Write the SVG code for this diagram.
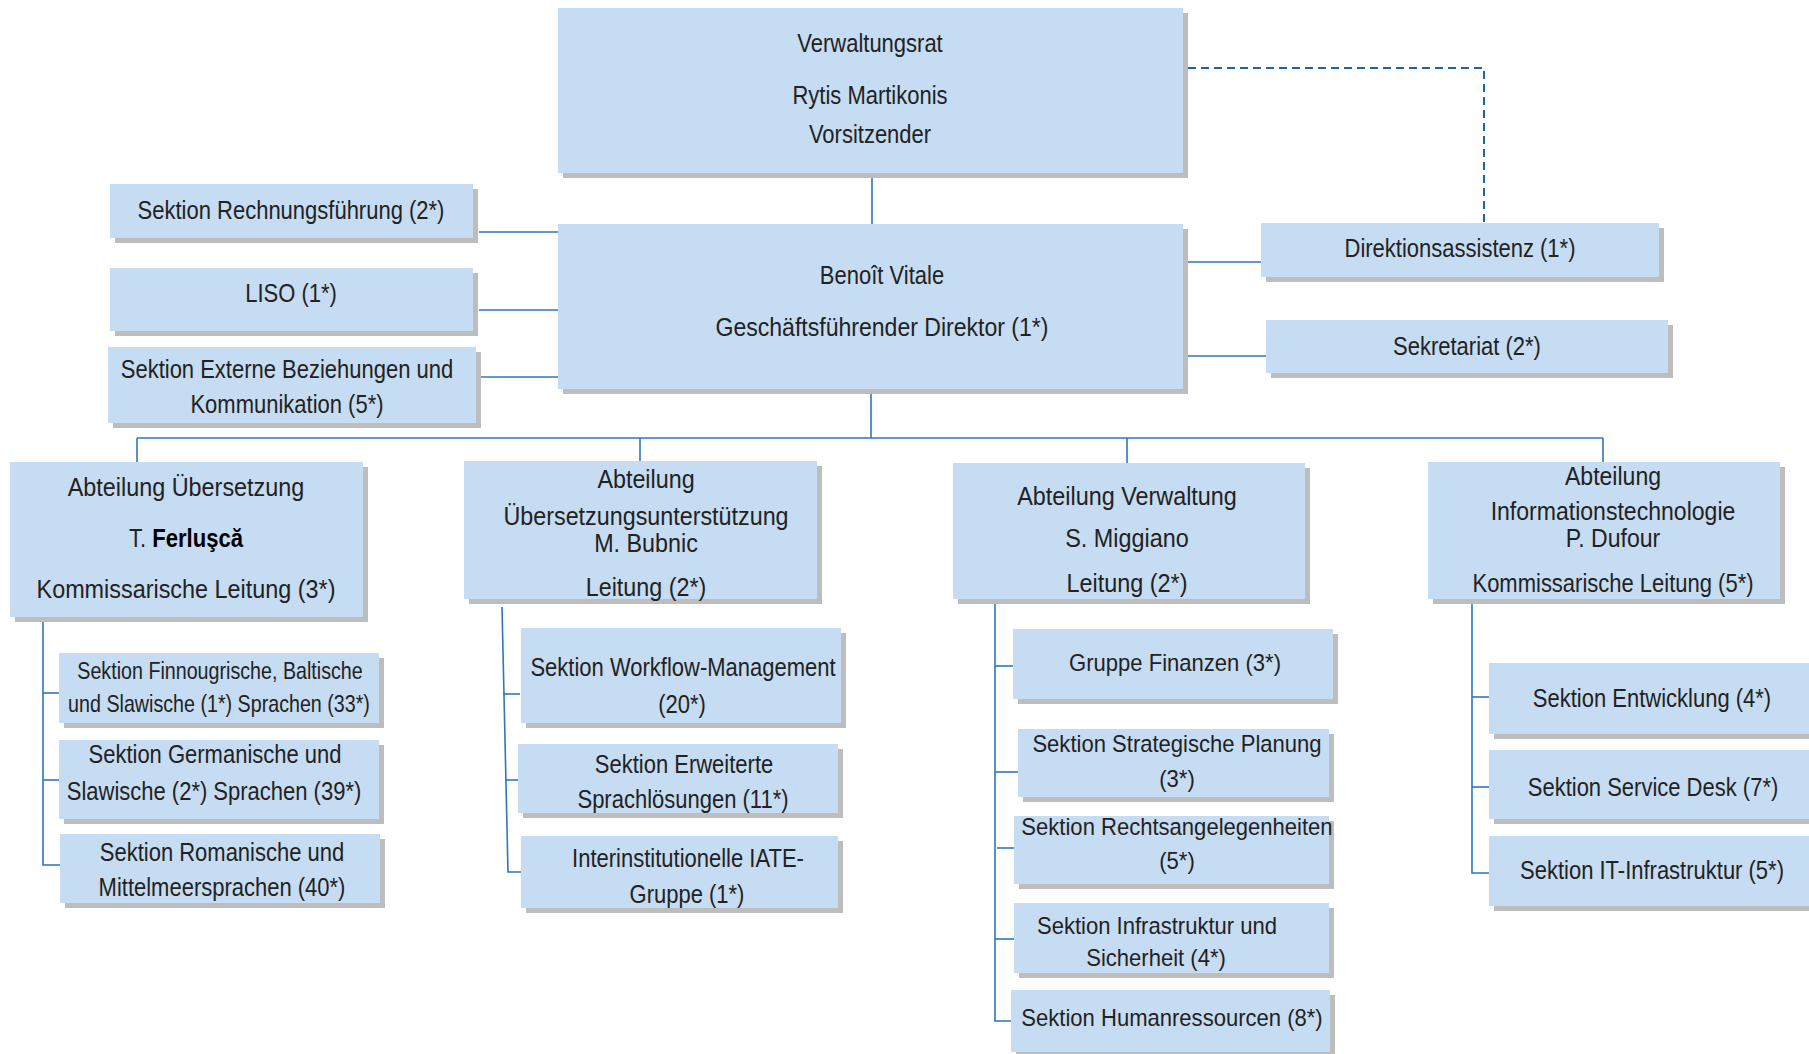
<svg xmlns="http://www.w3.org/2000/svg" width="1809" height="1054" viewBox="0 0 1809 1054">
<style>
.bg{fill:#ffffff}
.sh{fill:#bdbdbd}
.bx{fill:#c6dcf2}
.ln{stroke:#2f77b8;stroke-width:1.6;fill:none}
.dash{stroke:#1f64a6;stroke-width:2;fill:none;stroke-dasharray:8 5}
text{fill:#222222;text-anchor:middle;font-family:"Liberation Sans",Arial,sans-serif}
.c{font-size:26.5px}
.cs{font-size:24px}
.r{font-size:26px}
.rs{font-size:24.5px}
.b{font-weight:bold;fill:#000}
</style>
<rect class="bg" x="0" y="0" width="1809" height="1054"/>

<g id="connectors">
  <line class="ln" x1="872" y1="173" x2="872" y2="224"/>
  <line class="ln" x1="479" y1="232" x2="558" y2="232"/>
  <line class="ln" x1="479" y1="310" x2="558" y2="310"/>
  <line class="ln" x1="480" y1="377" x2="558" y2="377"/>
  <line class="ln" x1="1183" y1="262" x2="1261" y2="262"/>
  <line class="ln" x1="1188" y1="356" x2="1266" y2="356"/>
  <path class="dash" d="M1188,68 H1484 V222"/>
  <line class="ln" x1="871" y1="389" x2="871" y2="438"/>
  <line class="ln" x1="137" y1="438" x2="1603" y2="438"/>
  <line class="ln" x1="137" y1="438" x2="137" y2="462"/>
  <line class="ln" x1="640" y1="438" x2="640" y2="461"/>
  <line class="ln" x1="1127" y1="438" x2="1127" y2="463"/>
  <line class="ln" x1="1603" y1="438" x2="1603" y2="462"/>
  <polyline class="ln" points="43,617 43,865 60,865"/>
  <line class="ln" x1="43" y1="693" x2="59" y2="693"/>
  <line class="ln" x1="43" y1="780" x2="59" y2="780"/>
  <polyline class="ln" points="502,607 508,872 525,872"/>
  <line class="ln" x1="503" y1="694" x2="520" y2="694"/>
  <line class="ln" x1="505" y1="780" x2="518" y2="780"/>
  <polyline class="ln" points="995,599 995,1021 1011,1021"/>
  <line class="ln" x1="995" y1="666" x2="1013" y2="666"/>
  <line class="ln" x1="995" y1="772" x2="1018" y2="772"/>
  <line class="ln" x1="997" y1="848" x2="1014" y2="848"/>
  <line class="ln" x1="995" y1="939" x2="1014" y2="939"/>
  <polyline class="ln" points="1472,602 1472,873 1489,873"/>
  <line class="ln" x1="1472" y1="697" x2="1489" y2="697"/>
  <line class="ln" x1="1472" y1="787" x2="1489" y2="787"/>
</g>

<g id="verwaltungsrat">
  <rect class="sh" x="563" y="13" width="625" height="165"/>
  <rect class="bx" x="558" y="8" width="625" height="165"/>
  <text class="c" transform="translate(870 52) scale(0.83 1)">Verwaltungsrat</text>
  <text class="c" transform="translate(870 104) scale(0.83 1)">Rytis Martikonis</text>
  <text class="c" transform="translate(870 143) scale(0.83 1)">Vorsitzender</text>
</g>

<g id="direktor">
  <rect class="sh" x="563" y="229" width="625" height="165"/>
  <rect class="bx" x="558" y="224" width="625" height="165"/>
  <text class="c" transform="translate(882 284) scale(0.83 1)">Benoît Vitale</text>
  <text class="c" transform="translate(882 336) scale(0.87 1)">Geschäftsführender Direktor (1*)</text>
</g>

<g id="rechnungsfuehrung">
  <rect class="sh" x="115" y="189" width="363" height="54"/>
  <rect class="bx" x="110" y="184" width="363" height="54"/>
  <text class="c" transform="translate(291 219) scale(0.83 1)">Sektion Rechnungsführung (2*)</text>
</g>

<g id="liso">
  <rect class="sh" x="115" y="273" width="363" height="63"/>
  <rect class="bx" x="110" y="268" width="363" height="63"/>
  <text class="c" transform="translate(291 302) scale(0.83 1)">LISO (1*)</text>
</g>

<g id="externe">
  <rect class="sh" x="113" y="352" width="368" height="76"/>
  <rect class="bx" x="108" y="347" width="368" height="76"/>
  <text class="c" transform="translate(287 378) scale(0.83 1)">Sektion Externe Beziehungen und</text>
  <text class="c" transform="translate(287 413) scale(0.83 1)">Kommunikation (5*)</text>
</g>

<g id="direktionsassistenz">
  <rect class="sh" x="1266" y="228" width="398" height="54"/>
  <rect class="bx" x="1261" y="223" width="398" height="54"/>
  <text class="c" transform="translate(1460 257) scale(0.83 1)">Direktionsassistenz (1*)</text>
</g>

<g id="sekretariat">
  <rect class="sh" x="1271" y="325" width="402" height="53"/>
  <rect class="bx" x="1266" y="320" width="402" height="53"/>
  <text class="c" transform="translate(1467 355) scale(0.83 1)">Sekretariat (2*)</text>
</g>

<g id="abt-uebersetzung">
  <rect class="sh" x="15" y="467" width="353" height="155"/>
  <rect class="bx" x="10" y="462" width="353" height="155"/>
  <text class="r" transform="translate(186 496) scale(0.9 1)">Abteilung Übersetzung</text>
  <text class="r" transform="translate(186 547) scale(0.85 1)">T. <tspan class="b">Ferluşcă</tspan></text>
  <text class="r" transform="translate(186 598) scale(0.9 1)">Kommissarische Leitung (3*)</text>
</g>

<g id="finnougrisch">
  <rect class="sh" x="64" y="658" width="320" height="70"/>
  <rect class="bx" x="59" y="653" width="320" height="70"/>
  <text class="cs" transform="translate(220 679) scale(0.82 1)">Sektion Finnougrische, Baltische</text>
  <text class="cs" transform="translate(219 712) scale(0.82 1)">und Slawische (1*) Sprachen (33*)</text>
</g>

<g id="germanisch">
  <rect class="sh" x="64" y="745" width="320" height="79"/>
  <rect class="bx" x="59" y="740" width="320" height="79"/>
  <text class="c" transform="translate(215 763) scale(0.83 1)">Sektion Germanische und</text>
  <text class="c" transform="translate(214 800) scale(0.83 1)">Slawische (2*) Sprachen (39*)</text>
</g>

<g id="romanisch">
  <rect class="sh" x="65" y="839" width="320" height="69"/>
  <rect class="bx" x="60" y="834" width="320" height="69"/>
  <text class="c" transform="translate(222 861) scale(0.83 1)">Sektion Romanische und</text>
  <text class="c" transform="translate(222 896) scale(0.83 1)">Mittelmeersprachen (40*)</text>
</g>

<g id="abt-unterstuetzung">
  <rect class="sh" x="469" y="466" width="353" height="138"/>
  <rect class="bx" x="464" y="461" width="353" height="138"/>
  <text class="c" transform="translate(646 488) scale(0.88 1)">Abteilung</text>
  <text class="c" transform="translate(646 525) scale(0.88 1)">Übersetzungsunterstützung</text>
  <text class="c" transform="translate(646 552) scale(0.88 1)">M. Bubnic</text>
  <text class="c" transform="translate(646 596) scale(0.88 1)">Leitung (2*)</text>
</g>

<g id="workflow">
  <rect class="sh" x="526" y="633" width="320" height="95"/>
  <rect class="bx" x="521" y="628" width="320" height="95"/>
  <text class="c" transform="translate(683 676) scale(0.83 1)">Sektion Workflow-Management</text>
  <text class="c" transform="translate(682 713) scale(0.83 1)">(20*)</text>
</g>

<g id="sprachloesungen">
  <rect class="sh" x="523" y="749" width="320" height="69"/>
  <rect class="bx" x="518" y="744" width="320" height="69"/>
  <text class="c" transform="translate(684 773) scale(0.83 1)">Sektion Erweiterte</text>
  <text class="c" transform="translate(683 808) scale(0.83 1)">Sprachlösungen (11*)</text>
</g>

<g id="iate">
  <rect class="sh" x="526" y="841" width="317" height="72"/>
  <rect class="bx" x="521" y="836" width="317" height="72"/>
  <text class="c" transform="translate(688 867) scale(0.83 1)">Interinstitutionelle IATE-</text>
  <text class="c" transform="translate(687 903) scale(0.83 1)">Gruppe (1*)</text>
</g>

<g id="abt-verwaltung">
  <rect class="sh" x="958" y="468" width="352" height="136"/>
  <rect class="bx" x="953" y="463" width="352" height="136"/>
  <text class="r" transform="translate(1127 505) scale(0.9 1)">Abteilung Verwaltung</text>
  <text class="r" transform="translate(1127 547) scale(0.9 1)">S. Miggiano</text>
  <text class="r" transform="translate(1127 592) scale(0.9 1)">Leitung (2*)</text>
</g>

<g id="finanzen">
  <rect class="sh" x="1018" y="634" width="320" height="70"/>
  <rect class="bx" x="1013" y="629" width="320" height="70"/>
  <text class="rs" transform="translate(1175 671) scale(0.9 1)">Gruppe Finanzen (3*)</text>
</g>

<g id="strategie">
  <rect class="sh" x="1023" y="734" width="311" height="68"/>
  <rect class="bx" x="1018" y="729" width="311" height="68"/>
  <text class="rs" transform="translate(1177 752) scale(0.9 1)">Sektion Strategische Planung</text>
  <text class="rs" transform="translate(1177 787) scale(0.9 1)">(3*)</text>
</g>

<g id="recht">
  <rect class="sh" x="1019" y="821" width="315" height="68"/>
  <rect class="bx" x="1014" y="816" width="315" height="68"/>
  <text class="rs" transform="translate(1177 835) scale(0.9 1)">Sektion Rechtsangelegenheiten</text>
  <text class="rs" transform="translate(1177 869) scale(0.9 1)">(5*)</text>
</g>

<g id="infrastruktur">
  <rect class="sh" x="1019" y="908" width="315" height="70"/>
  <rect class="bx" x="1014" y="903" width="315" height="70"/>
  <text class="rs" transform="translate(1157 934) scale(0.9 1)">Sektion Infrastruktur und</text>
  <text class="rs" transform="translate(1156 966) scale(0.9 1)">Sicherheit (4*)</text>
</g>

<g id="humanressourcen">
  <rect class="sh" x="1016" y="995" width="319" height="62"/>
  <rect class="bx" x="1011" y="990" width="319" height="62"/>
  <text class="rs" transform="translate(1172 1026) scale(0.9 1)">Sektion Humanressourcen (8*)</text>
</g>

<g id="abt-it">
  <rect class="sh" x="1433" y="467" width="352" height="137"/>
  <rect class="bx" x="1428" y="462" width="352" height="137"/>
  <text class="c" transform="translate(1613 485) scale(0.87 1)">Abteilung</text>
  <text class="c" transform="translate(1613 520) scale(0.87 1)">Informationstechnologie</text>
  <text class="c" transform="translate(1613 547) scale(0.87 1)">P. Dufour</text>
  <text class="c" transform="translate(1613 592) scale(0.83 1)">Kommissarische Leitung (5*)</text>
</g>

<g id="entwicklung">
  <rect class="sh" x="1494" y="668" width="330" height="71"/>
  <rect class="bx" x="1489" y="663" width="330" height="71"/>
  <text class="c" transform="translate(1652 707) scale(0.83 1)">Sektion Entwicklung (4*)</text>
</g>

<g id="servicedesk">
  <rect class="sh" x="1494" y="755" width="330" height="69"/>
  <rect class="bx" x="1489" y="750" width="330" height="69"/>
  <text class="c" transform="translate(1653 796) scale(0.83 1)">Sektion Service Desk (7*)</text>
</g>

<g id="it-infrastruktur">
  <rect class="sh" x="1494" y="841" width="330" height="70"/>
  <rect class="bx" x="1489" y="836" width="330" height="70"/>
  <text class="c" transform="translate(1652 879) scale(0.83 1)">Sektion IT-Infrastruktur (5*)</text>
</g>
</svg>
